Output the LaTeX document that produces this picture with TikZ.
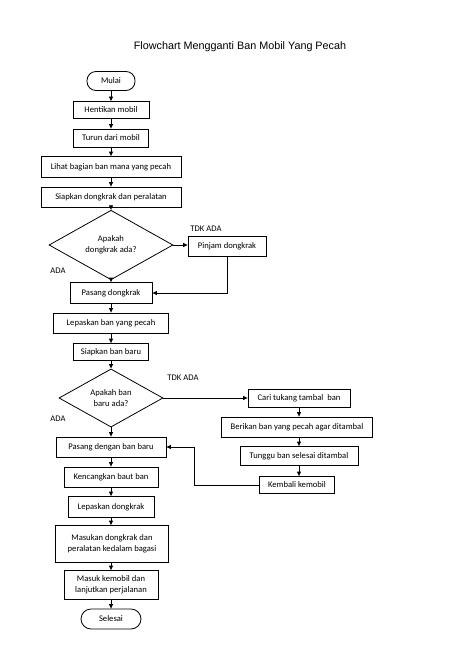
\documentclass[tikz,border=0pt]{standalone}
\usepackage{fontspec}
\setmainfont{Carlito}
\newfontfamily\titlefont{Liberation Sans}
\usetikzlibrary{shapes.geometric,arrows.meta}
\begin{document}
\begin{tikzpicture}[x=1pt,y=-1pt,
  every node/.style={font=\fontsize{8.6}{11}\selectfont},
  box/.style={draw,line width=0.8pt,rectangle,inner sep=1pt,align=center},
  term/.style={box,rounded corners=9pt},
  dec/.style={draw,line width=0.8pt,diamond,inner sep=0pt,align=center},
  lbl/.style={inner sep=0pt},
  arr/.style={line width=0.8pt,-{Triangle[length=4.5pt,width=4pt]}}]
\useasboundingbox (0,0) rectangle (474,650);
\node[lbl,font=\titlefont\fontsize{10.8}{13}\selectfont] (title) at (240,47) {Flowchart Mengganti Ban Mobil Yang Pecah};
\node[term,minimum width=48pt,minimum height=19pt] (mulai) at (111,81) {Mulai};
\node[box,minimum width=76pt,minimum height=17pt] (n1) at (111,110) {Hentikan mobil};
\node[box,minimum width=75pt,minimum height=18pt] (n2) at (111,138) {Turun dari mobil};
\node[box,minimum width=140pt,minimum height=21pt] (n3) at (111,167) {Lihat bagian ban mana yang pecah};
\node[box,minimum width=140pt,minimum height=20pt] (n4) at (111,197) {Siapkan dongkrak dan peralatan};
\node[dec,minimum width=124pt,minimum height=56pt] (d1) at (111,245) {Apakah\\dongkrak ada?};
\node[box,minimum width=78pt,minimum height=20pt] (pinjam) at (227,246) {Pinjam dongkrak};
\node[lbl] (tdk1) at (206,229) {TDK ADA};
\node[lbl] (ada1) at (58,271) {ADA};
\node[box,minimum width=82pt,minimum height=21pt] (n5) at (111,293) {Pasang dongkrak};
\node[box,minimum width=115pt,minimum height=20pt] (n6) at (111,323) {Lepaskan ban yang pecah};
\node[box,minimum width=75pt,minimum height=17pt] (n7) at (111,352) {Siapkan ban baru};
\node[dec,minimum width=104pt,minimum height=58pt] (d2) at (111,398) {Apakah ban\\baru ada?};
\node[lbl] (tdk2) at (183,378) {TDK ADA};
\node[lbl] (ada2) at (58,419) {ADA};
\node[box,minimum width=102pt,minimum height=18pt] (c1) at (299,398) {Cari tukang tambal\ \ ban};
\node[box,minimum width=151pt,minimum height=20pt] (c2) at (297,427) {Berikan ban yang pecah agar ditambal};
\node[box,minimum width=118pt,minimum height=19pt] (c3) at (299,456) {Tunggu ban selesai ditambal};
\node[box,minimum width=75pt,minimum height=17pt] (c4) at (297,485) {Kembali kemobil};
\node[box,minimum width=110pt,minimum height=20pt] (n8) at (111,447) {Pasang dengan ban baru};
\node[box,minimum width=94pt,minimum height=20pt] (n9) at (111,477) {Kencangkan baut ban};
\node[box,minimum width=86pt,minimum height=21pt] (n10) at (111,507) {Lepaskan dongkrak};
\node[box,minimum width=113pt,minimum height=37pt] (n11) at (112,544) {Masukan dongkrak dan\\peralatan kedalam bagasi};
\node[box,minimum width=94pt,minimum height=29pt] (n12) at (111,585) {Masuk kemobil dan\\lanjutkan perjalanan};
\node[term,minimum width=60pt,minimum height=20pt,rounded corners=10pt] (selesai) at (111,619) {Selesai};
\draw[arr] (mulai) -- (n1);
\draw[arr] (n1) -- (n2);
\draw[arr] (n2) -- (n3);
\draw[arr] (n3) -- (n4);
\draw[arr] (n4) -- (d1);
\draw[arr] (d1.east) -- (d1.east -| pinjam.west);
\draw[arr] (d1) -- (n5);
\draw[arr] (pinjam.south) |- (n5.east);
\draw[arr] (n5) -- (n6);
\draw[arr] (n6) -- (n7);
\draw[arr] (n7) -- (d2);
\draw[arr] (d2.east) -- (d2.east -| c1.west);
\draw[arr] (d2) -- (n8);
\draw[arr] (c1.south) -- (c1.south |- c2.north);
\draw[arr] (c1.south |- c2.south) -- (c1.south |- c3.north);
\draw[arr] (c3.south) -- (c3.south |- c4.north);
\draw[arr] (c4.west) -- ++(-65,0) |- (n8.east);
\draw[arr] (n8) -- (n9);
\draw[arr] (n9) -- (n10);
\draw[arr] (n10) -- (n10 |- n11.north);
\draw[arr] (n10 |- n11.south) -- (n12);
\draw[arr] (n12) -- (selesai);
\end{tikzpicture}
\end{document}
